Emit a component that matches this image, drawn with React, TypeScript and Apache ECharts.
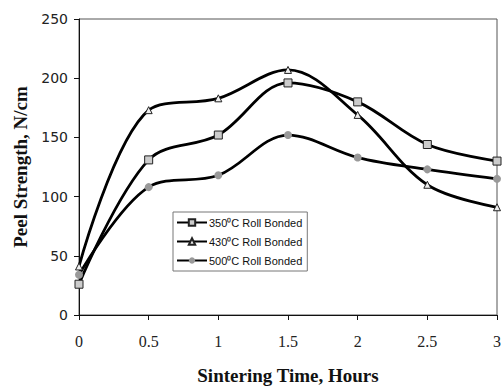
import React, { useEffect, useRef } from "react";
import * as echarts from "echarts";

const hours = [0, 0.5, 1, 1.5, 2, 2.5, 3];
const s350 = [26, 131, 152, 196, 180, 144, 130];
const s430 = [41, 173, 183, 207, 169, 110, 91];
const s500 = [34, 108, 118, 152, 133, 123, 115];
const seriesNames = ["350⁰C Roll Bonded", "430⁰C Roll Bonded", "500⁰C Roll Bonded"];

export default function App() {
  const ref = useRef<HTMLDivElement>(null);
  useEffect(() => {
    const chart = echarts.init(ref.current!, null, { renderer: "svg" });
    const pts = (arr: number[]) => hours.map((h, i) => [h, arr[i]]);
    const line = { color: "#000", width: 2.8 };
    chart.setOption({
      animation: false,
      backgroundColor: "#fff",
      grid: { left: 79, right: 2, top: 19, bottom: 69, show: true, borderColor: "#555", borderWidth: 1 },
      legend: {
        orient: "vertical",
        left: 173,
        top: 212,
        itemWidth: 30,
        itemHeight: 8,
        itemGap: 8,
        padding: [5, 5, 5, 3],
        borderColor: "#777",
        borderWidth: 1,
        textStyle: { fontFamily: "Liberation Sans, Arial, sans-serif", fontSize: 11, color: "#111", padding: [0, 0, 0, -3] },
        data: seriesNames,
      },
      xAxis: {
        type: "value",
        min: 0,
        max: 3,
        interval: 0.5,
        splitLine: { show: false },
        axisLine: { lineStyle: { color: "#111", width: 1 } },
        axisTick: { show: true, length: 5, lineStyle: { color: "#111" } },
        axisLabel: { fontFamily: "Liberation Serif, Times New Roman, serif", fontSize: 16, color: "#222", margin: 18 },
        name: "Sintering Time, Hours",
        nameLocation: "middle",
        nameGap: 51,
        nameTextStyle: { fontFamily: "Liberation Serif, Times New Roman, serif", fontSize: 19, fontWeight: "bold", color: "#111" },
      },
      yAxis: {
        type: "value",
        min: 0,
        max: 250,
        interval: 50,
        splitLine: { show: false },
        axisLine: { show: true, lineStyle: { color: "#111", width: 1 } },
        axisTick: { show: true, length: 5, lineStyle: { color: "#111" } },
        axisLabel: { fontFamily: "DejaVu Sans, Verdana, sans-serif", fontSize: 14, color: "#222", margin: 11 },
        name: "Peel Strength, N/cm",
        nameLocation: "middle",
        nameGap: 46,
        nameTextStyle: { fontFamily: "Liberation Serif, Times New Roman, serif", fontSize: 19, fontWeight: "bold", color: "#111" },
      },
      series: [
        {
          name: seriesNames[0],
          type: "line",
          smooth: 0.35,
          data: pts(s350),
          symbol: "rect",
          symbolSize: 8,
          lineStyle: line,
          itemStyle: { color: "#ccc", borderColor: "#222", borderWidth: 1 },
        },
        {
          name: seriesNames[1],
          type: "line",
          smooth: 0.35,
          data: pts(s430),
          symbol: "triangle",
          symbolSize: 7,
          lineStyle: line,
          itemStyle: { color: "#eee", borderColor: "#222", borderWidth: 1 },
        },
        {
          name: seriesNames[2],
          type: "line",
          smooth: 0.35,
          data: pts(s500),
          symbol: "circle",
          symbolSize: 8,
          lineStyle: line,
          itemStyle: { color: "#999", borderColor: "#999", borderWidth: 0 },
        },
      ],
    });
    return () => chart.dispose();
  }, []);
  return <div ref={ref} style={{ width: 504, height: 390, position: "absolute", left: 0, top: 0 }} />;
}
